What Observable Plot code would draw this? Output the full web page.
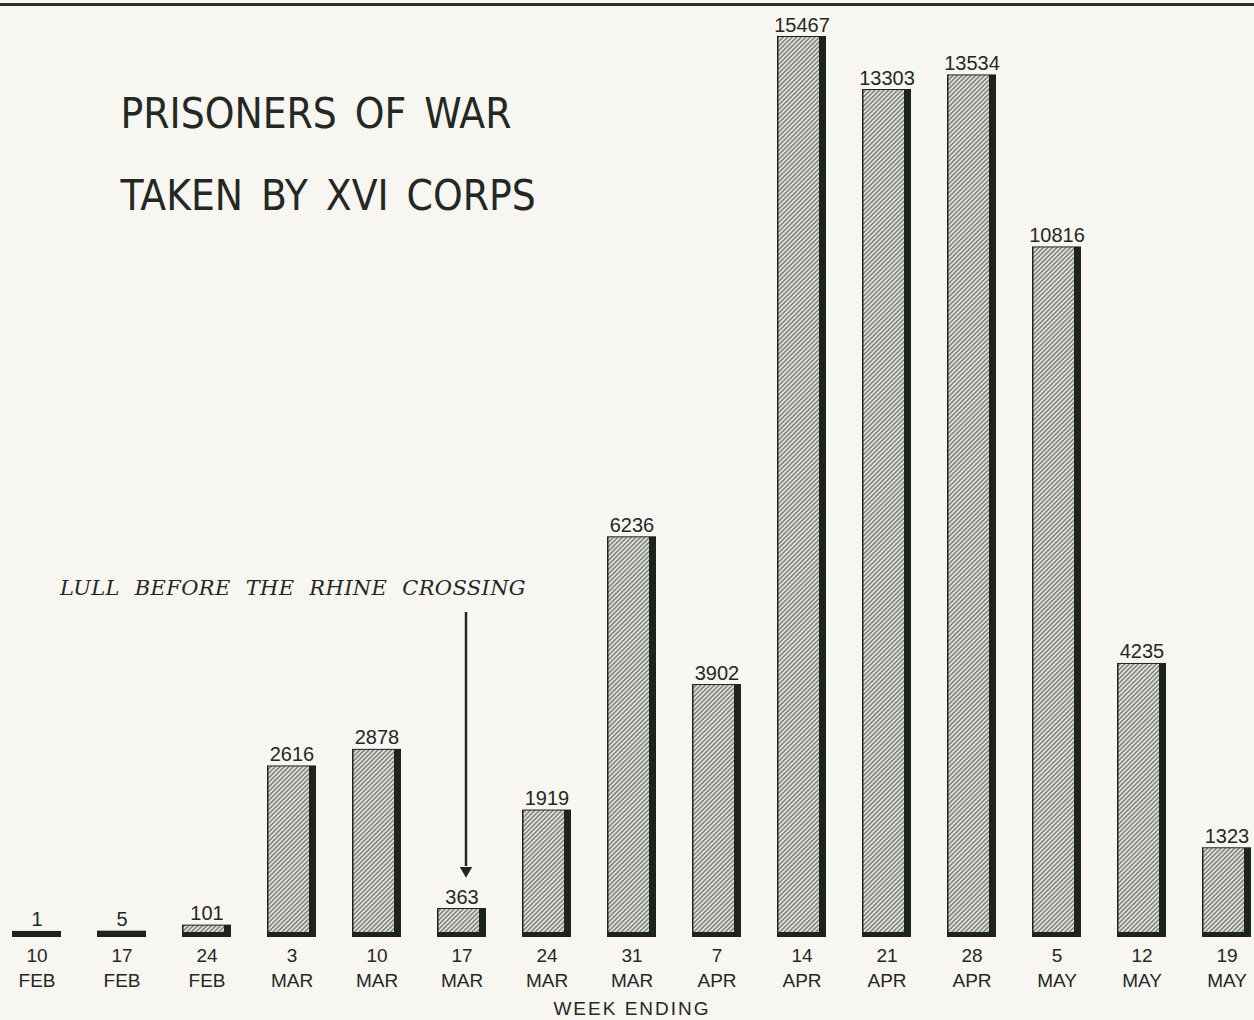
<!DOCTYPE html>
<html><head><meta charset="utf-8">
<script src="https://cdn.jsdelivr.net/npm/d3@7"></script>
<script src="https://cdn.jsdelivr.net/npm/@observablehq/plot@0.6"></script>
<style>
html,body{margin:0;padding:0;background:#f7f6f1;}
#wrap{position:relative;width:1254px;height:1020px;overflow:hidden;background:#f7f6f1;}
#rule{position:absolute;left:0;top:3px;width:1254px;height:3px;background:#2b2e2b;}
</style></head><body><div id="wrap"><div id="rule"></div></div>
<script>
const days = ["10","17","24","3","10","17","24","31","7","14","21","28","5","12","19"];
const months = ["FEB","FEB","FEB","MAR","MAR","MAR","MAR","MAR","APR","APR","APR","APR","MAY","MAY","MAY"];
const prisoners = [1,5,101,2616,2878,363,1919,6236,3902,15467,13303,13534,10816,4235,1323];
const titleLines = ["PRISONERS OF WAR", "TAKEN BY XVI CORPS"];
const xLabel = "WEEK ENDING";
const lullText = "LULL BEFORE THE RHINE CROSSING";
const lullIndex = 5;
const lullTextY = 5435;
const arrowTop = 5056;
const arrowBase = 1043;
const arrowHeadY = 980;
const yMax = 14141; // tallest bar (15467) is drawn cut off at the top, as in the original

const weeks = days.map((d, i) => d + "\n" + months[i]);
const data = weeks.map((w, i) => ({week: w, value: prisoners[i]}));
const lullWeek = weeks[lullIndex];

const ink = "#242824";
const dark = "#1d2420";

const chart = Plot.plot({
  width: 1254,
  height: 1020,
  marginTop: 37,
  marginBottom: 88,
  marginLeft: 9,
  marginRight: 0,
  style: {background: "transparent", color: ink, fontFamily: "'Liberation Sans', Arial, sans-serif"},
  x: {domain: weeks, paddingInner: 0.425, paddingOuter: 0, align: 0.5},
  y: {domain: [0, yMax], clamp: true, axis: null},
  marks: [
    Plot.barY(data, {x: "week", y: "value", fill: dark, insetTop: -1, insetBottom: -5}),
    Plot.barY(data.filter(d => d.value >= 50), {x: "week", y: "value", fill: "url(#hatch)", insetLeft: 1.5, insetRight: 7}),
    Plot.text(data, {x: "week", y: "value", text: d => String(d.value), dy: -6, lineAnchor: "bottom",
      fontSize: 20, fill: ink}),
    Plot.axisX({tickSize: 0, tickPadding: 11, fontSize: 19, lineHeight: 1.34, label: null, fill: ink}),
    Plot.text([xLabel], {frameAnchor: "bottom", dy: 76, lineAnchor: "middle", fontSize: 19, fill: ink}),
    Plot.text([titleLines.join("\n")], {frameAnchor: "top-left", dx: 111, dy: 32, lineAnchor: "top",
      textAnchor: "start", lineHeight: 1.95, fontSize: 42, fill: ink,
      fontFamily: "'DejaVu Sans Condensed', 'Liberation Sans Narrow', sans-serif"}),
    Plot.text([{week: lullWeek, y: lullTextY}], {x: "week", y: "y", text: () => lullText, textAnchor: "end",
      dx: 64, lineAnchor: "middle", fontSize: 21, fontStyle: "italic", fill: ink,
      fontFamily: "'DejaVu Serif', serif"}),
    Plot.ruleX([{week: lullWeek, y1: arrowTop, y2: arrowBase}], {x: "week", y1: "y1", y2: "y2", dx: 4,
      stroke: ink, strokeWidth: 2.5}),
    Plot.dot([{week: lullWeek, y: arrowHeadY}], {x: "week", y: "y", dx: 4, symbol: "triangle", rotate: 180,
      r: 4.6, fill: ink, stroke: "none"})
  ]
});

const svg = d3.select(chart);
const defs = svg.insert("defs", ":first-child");
const pat = defs.append("pattern").attr("id", "hatch").attr("patternUnits", "userSpaceOnUse")
  .attr("width", 3.2).attr("height", 3.2).attr("patternTransform", "rotate(45)");
pat.append("rect").attr("width", 3.2).attr("height", 3.2).attr("fill", "#e2e0da");
pat.append("line").attr("x1", 0.8).attr("y1", 0).attr("x2", 0.8).attr("y2", 3.2)
  .attr("stroke", "#5b5e5a").attr("stroke-width", 1.1);

svg.selectAll("text").each(function() {
  const t = this.textContent;
  if (t.includes(lullText)) d3.select(this).style("letter-spacing", "0.35px").style("word-spacing", "8px");
  if (t.includes("PRISONERS") || t.includes("CORPS")) d3.select(this).style("word-spacing", "6px");
  if (t === xLabel) d3.select(this).style("letter-spacing", "2px");
});

chart.style.position = "absolute";
chart.style.left = "0";
chart.style.top = "0";
document.getElementById("wrap").appendChild(chart);
</script>
</body></html>
